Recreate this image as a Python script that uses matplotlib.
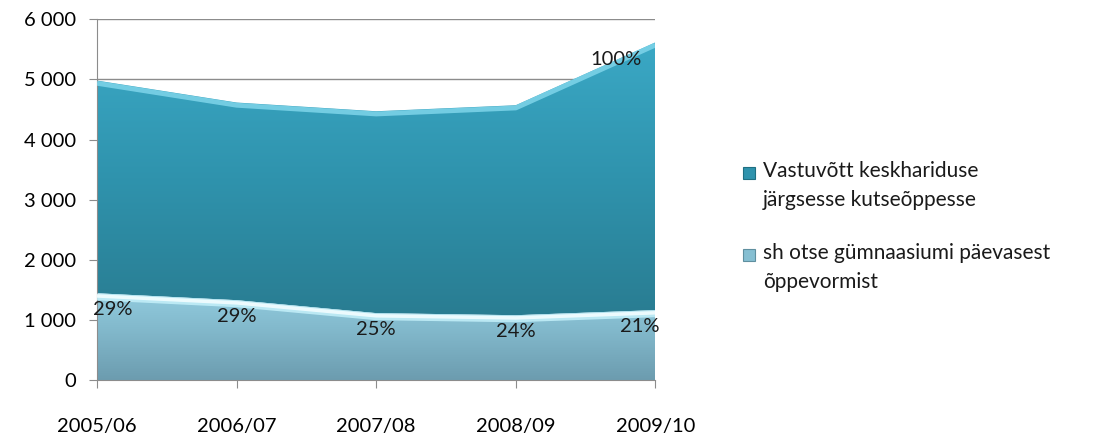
import numpy as np
import matplotlib
matplotlib.use("Agg")
import matplotlib.pyplot as plt
from matplotlib.patches import Rectangle
from matplotlib.colors import LinearSegmentedColormap

plt.rcParams['font.family'] = ['Lato', 'DejaVu Sans']

years = ["2005/06", "2006/07", "2007/08", "2008/09", "2009/10"]
total = [4980, 4615, 4470, 4570, 5615]
direct = [1445, 1330, 1115, 1080, 1165]
pct_direct = ["29%", "29%", "25%", "24%", "21%"]
pct_total = "100%"
labels = ["Vastuvõtt keskhariduse\njärgsesse kutseõppesse",
          "sh otse gümnaasiumi päevasest\nõppevormist"]

x = np.arange(len(years))

fig = plt.figure(figsize=(11.1, 4.36), dpi=100)
ax = fig.add_axes([0.0874, 0.128, 0.503, 0.828])
ax.set_xlim(0, 4)
ax.set_ylim(0, 6000)

# grid lines behind areas
for v in range(0, 7000, 1000):
    ax.axhline(v, color='#8c8c8c', lw=1, zorder=0)

top_cmap = LinearSegmentedColormap.from_list('t', ['#297c91', '#2f93ad', '#3ba9c6'])
bot_cmap = LinearSegmentedColormap.from_list('b', ['#6c9caf', '#80b6c9', '#93cde0'])

grad = np.linspace(0, 1, 256).reshape(-1, 1)

poly_top = ax.fill_between(x, direct, total, color='none', lw=0, zorder=1)
im = ax.imshow(grad, cmap=top_cmap, origin='lower', aspect='auto',
               extent=[0, 4, 1000, 5700], zorder=1)
im.set_clip_path(poly_top.get_paths()[0], transform=ax.transData)

poly_bot = ax.fill_between(x, 0, direct, color='none', lw=0, zorder=2)
im2 = ax.imshow(grad, cmap=bot_cmap, origin='lower', aspect='auto',
                extent=[0, 4, 0, 1500], zorder=2)
im2.set_clip_path(poly_bot.get_paths()[0], transform=ax.transData)

# glossy top edges
ax.plot(x, np.array(total) - 45, color='#7fd5ea', lw=3.5, alpha=0.85, zorder=3,
        solid_capstyle='butt')
ax.plot(x, np.array(direct) - 60, color='#c8f3fc', lw=5, alpha=0.8, zorder=3,
        solid_capstyle='butt')
ax.plot(x, np.array(direct) - 45, color='#f2fdff', lw=2.5, alpha=0.9, zorder=3,
        solid_capstyle='butt')

# data labels
dx = [11, 0, 0, 0, -11]
for i in range(len(years)):
    ax.annotate(pct_direct[i], (x[i], direct[i]), xytext=(dx[i], -12),
                textcoords='offset points', ha='center', va='center',
                fontsize=14.5, color='#1a1a1a', zorder=5)
ax.annotate(pct_total, (x[-1], total[-1]), xytext=(-28, -12),
            textcoords='offset points', ha='center', va='center',
            fontsize=14.5, color='#1a1a1a', zorder=5)

ax.set_xticks(x)
ax.set_xticklabels(years)
ax.set_yticks(range(0, 7000, 1000))
ax.set_yticklabels(["0", "1 000", "2 000", "3 000", "4 000", "5 000", "6 000"])
ax.tick_params(axis='y', length=6, color='#8c8c8c', labelsize=14.5, pad=9)
ax.tick_params(axis='x', length=6, color='#8c8c8c', labelsize=14.5, pad=21)

for s in ['top', 'right']:
    ax.spines[s].set_visible(False)
ax.spines['left'].set_color('#8c8c8c')
ax.spines['bottom'].set_color('#8c8c8c')

# legend drawn by hand: marker aligned to first line
W, H = 1110, 436
leg_colors = [('#2f93ad', '#1f6f82'), ('#86bfd2', '#5f8f9f')]
leg_y = [173, 255]
for (fc, ec), yy, lab in zip(leg_colors, leg_y, labels):
    fig.patches.append(Rectangle((743 / W, 1 - (yy + 6) / H), 12 / W, 12 / H,
                                 transform=fig.transFigure, facecolor=fc,
                                 edgecolor=ec, lw=0.8))
    fig.text(763 / W, 1 - (yy - 12) / H, lab, ha='left', va='top',
             fontsize=15, color='#1a1a1a', linespacing=1.55)

fig.savefig("out.png", dpi=100)
